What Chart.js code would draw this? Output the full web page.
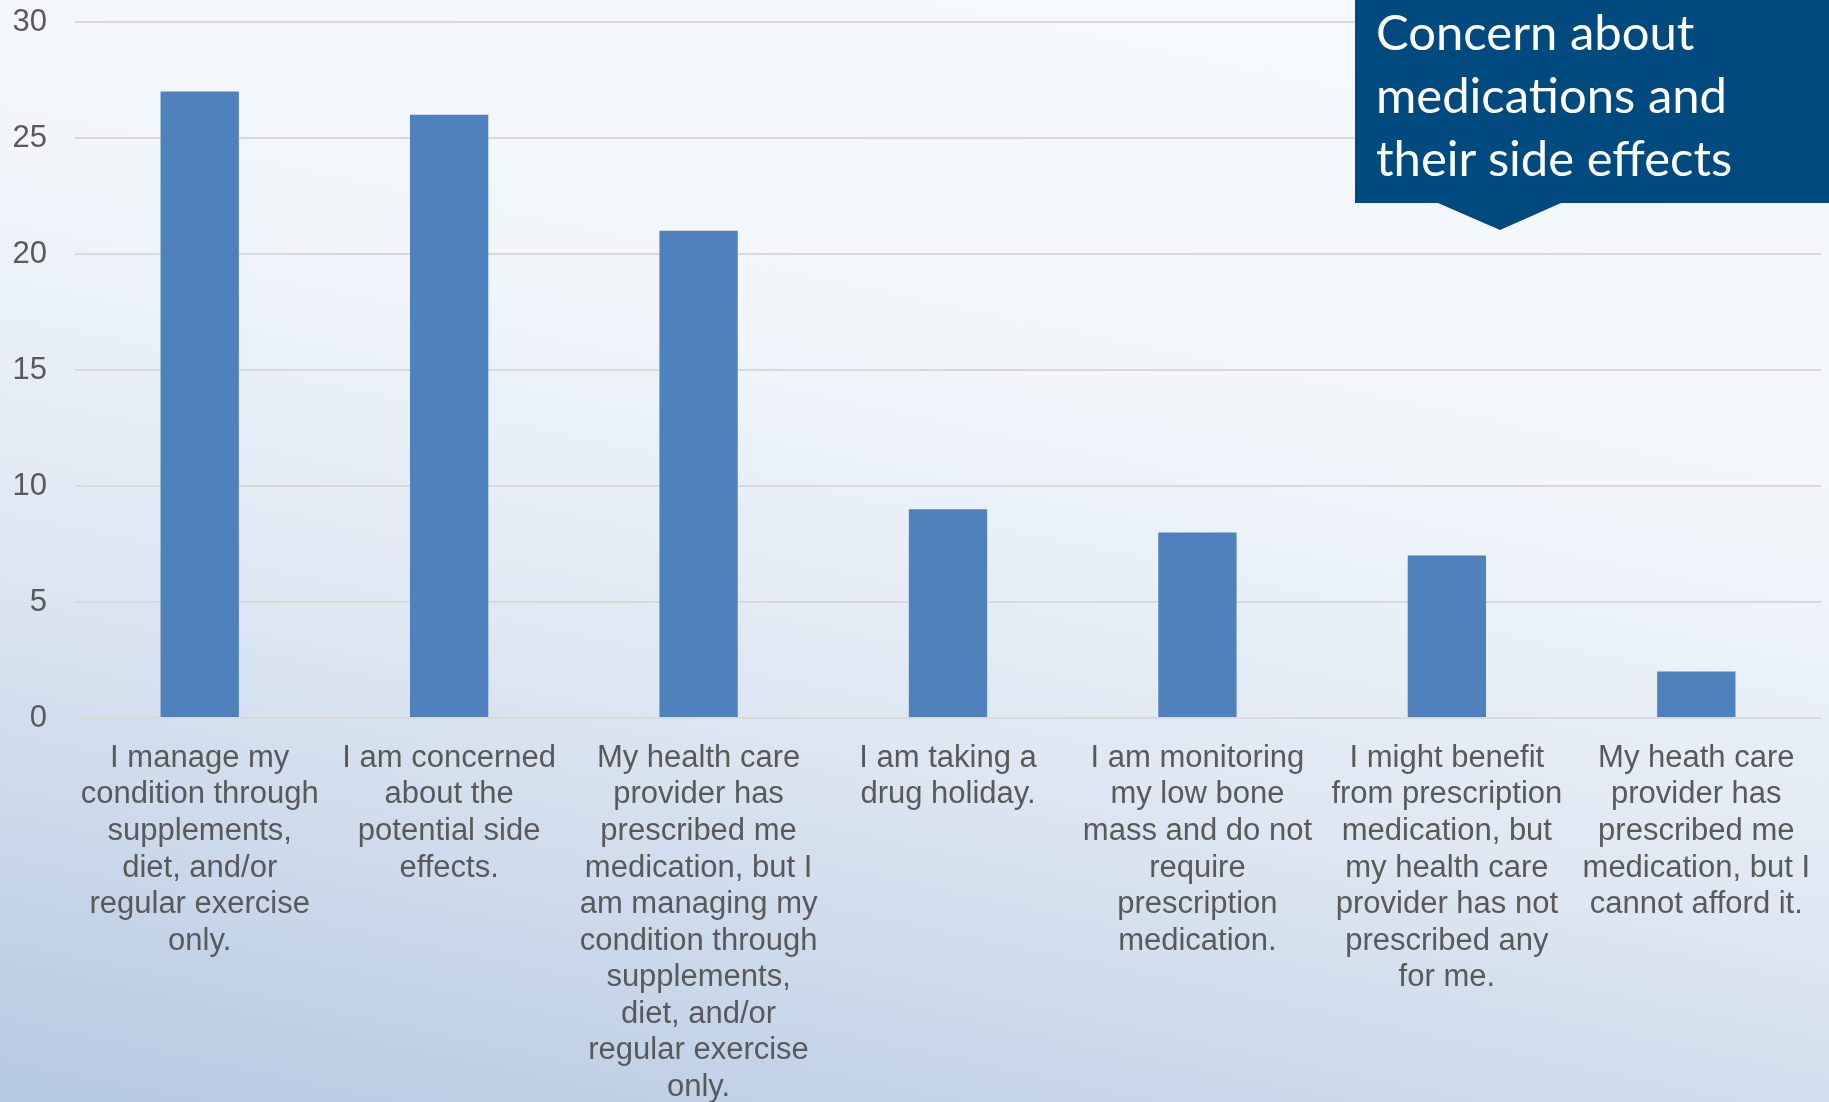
<!DOCTYPE html>
<html>
<head>
<meta charset="utf-8">
<script src="https://cdn.jsdelivr.net/npm/chart.js@4.4.1/dist/chart.umd.min.js"></script>
<style>
    body {
        margin: 0;
        overflow: hidden;
    }
    .wrap {
        position: relative;
        width: 1829px;
        height: 1102px;
        background: linear-gradient(192deg, #f6f9fc 0%, #f2f6fb 36%, #dde6f2 64%, #b5c9e2 100%);
    }
    #Chart1 {
        position: absolute;
        left: 0;
        top: 0;
    }
    .callout {
        position: absolute;
        left: 1355px;
        top: 0;
        width: 474px;
        height: 230px;
        background: #004a80;
        clip-path: polygon(0 0, 100% 0, 100% 203px, 206px 203px, 145px 230px, 83px 203px, 0 203px);
        color: #fff;
        font-family: Lato, "Open Sans", sans-serif;
        font-size: 49px;
        line-height: 63px;
        padding: 0 0 0 21px;
        box-sizing: border-box;
    }
</style>
</head>
<body>
<div class="wrap">
    <canvas id="Chart1" width="1829" height="1102"></canvas>
    <div class="callout">Concern about<br>medications and<br>their side effects</div>
</div>
<script>
const categories = [
    ['I manage my', 'condition through', 'supplements,', 'diet, and/or', 'regular exercise', 'only.'],
    ['I am concerned', 'about the', 'potential side', 'effects.'],
    ['My health care', 'provider has', 'prescribed me', 'medication, but I', 'am managing my', 'condition through', 'supplements,', 'diet, and/or', 'regular exercise', 'only.'],
    ['I am taking a', 'drug holiday.'],
    ['I am monitoring', 'my low bone', 'mass and do not', 'require', 'prescription', 'medication.'],
    ['I might benefit', 'from prescription', 'medication, but', 'my health care', 'provider has not', 'prescribed any', 'for me.'],
    ['My heath care', 'provider has', 'prescribed me', 'medication, but I', 'cannot afford it.']
];
const responses = [27, 26, 21, 9, 8, 7, 2];
const yTicks = [0, 5, 10, 15, 20, 25, 30];

const ctx1 = document.getElementById('Chart1').getContext('2d');

new Chart(ctx1, {
    type: 'bar',
    data: {
        labels: categories,
        datasets: [{
            data: responses,
            backgroundColor: '#4f81bd',
            borderWidth: 0,
            barPercentage: 0.314,
            categoryPercentage: 1
        }]
    },
    options: {
        responsive: false,
        animation: false,
        layout: {
            padding: { top: 22, right: 8, left: 0, bottom: 0 }
        },
        plugins: {
            legend: { display: false },
            tooltip: { enabled: false }
        },
        scales: {
            x: {
                grid: { display: false },
                border: { display: false },
                ticks: {
                    autoSkip: false,
                    maxRotation: 0,
                    padding: 14,
                    color: '#595959',
                    font: { family: '"Liberation Sans", Arial, sans-serif', size: 31, lineHeight: 1.18 }
                },
                afterFit: (scale) => {
                    scale.height = 384;
                    scale.paddingLeft = 0;
                    scale.paddingRight = 0;
                }
            },
            y: {
                min: 0,
                max: 30,
                afterBuildTicks: (scale) => { scale.ticks = yTicks.map(v => ({ value: v })); },
                grid: { color: '#d9d9d9', lineWidth: 2, drawTicks: false },
                border: { display: false },
                ticks: {
                    padding: 28,
                    color: '#595959',
                    font: { family: '"Liberation Sans", Arial, sans-serif', size: 31 }
                },
                afterFit: (scale) => {
                    scale.width = 75;
                    scale.paddingTop = 0;
                    scale.paddingBottom = 0;
                }
            }
        }
    }
});
</script>
</body>
</html>
